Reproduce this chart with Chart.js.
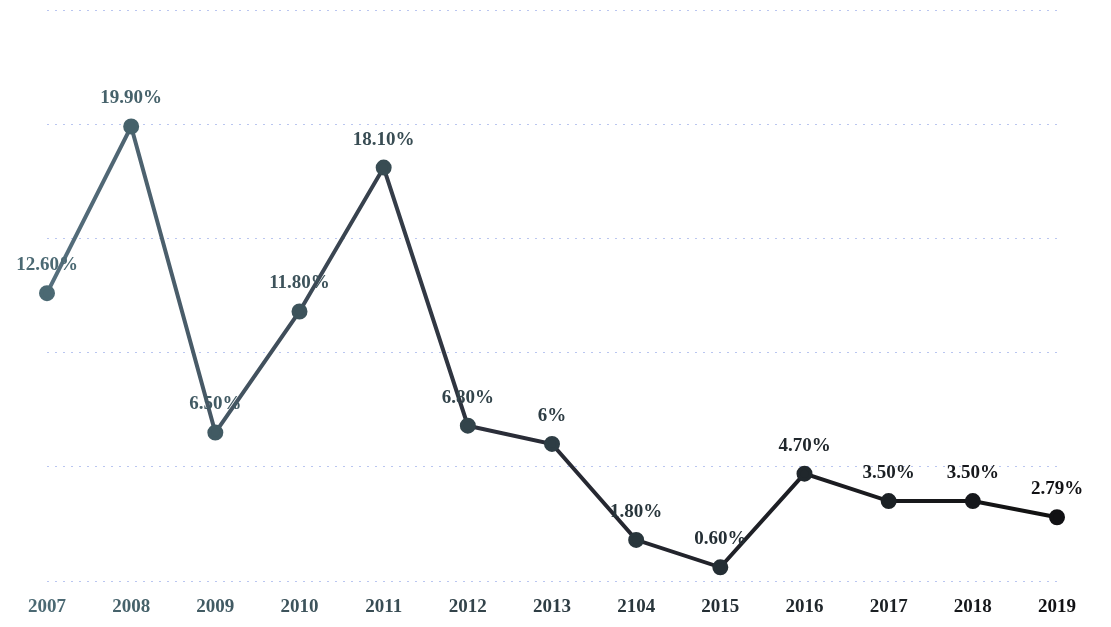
<!DOCTYPE html>
<html>
<head>
<meta charset="utf-8">
<script src="https://cdn.jsdelivr.net/npm/chart.js@4"></script>
<style>
  html, body { margin: 0; padding: 0; background: #fff; }
  #wrap { width: 1111px; height: 627px; }
</style>
</head>
<body>
<div id="wrap"><canvas id="rateChart" width="1111" height="627"></canvas></div>
<script>
const years = ["2007", "2008", "2009", "2010", "2011", "2012", "2013", "2104", "2015", "2016", "2017", "2018", "2019"];
const rates = [12.6, 19.9, 6.5, 11.8, 18.1, 6.8, 6, 1.8, 0.6, 4.7, 3.5, 3.5, 2.79];
const rateLabels = ["12.60%", "19.90%", "6.50%", "11.80%", "18.10%", "6.80%", "6%", "1.80%", "0.60%", "4.70%", "3.50%", "3.50%", "2.79%"];
const yTicks = [0, 5, 10, 15, 20, 25];

// colour fades from grey-teal on the left to black on the right
function shade(i) {
    const t = i / (years.length - 1);
    const r = Math.round(75 + (17 - 75) * t);
    const g = Math.round(105 + (17 - 105) * t);
    const b = Math.round(115 + (20 - 115) * t);
    return `rgb(${r},${g},${b})`;
}

const pointLabels = {
    id: "pointLabels",
    afterDatasetsDraw(chart) {
        const ctx = chart.ctx;
        const meta = chart.getDatasetMeta(0);
        ctx.save();
        ctx.font = "bold 19px 'Liberation Serif', 'Times New Roman', serif";
        ctx.textAlign = "center";
        ctx.textBaseline = "middle";
        meta.data.forEach((pt, i) => {
            ctx.fillStyle = shade(i);
            ctx.fillText(rateLabels[i], pt.x, pt.y - 28);
        });
        ctx.restore();
    }
};

const ctx = document.getElementById("rateChart").getContext("2d");
new Chart(ctx, {
    type: "line",
    data: {
        labels: years,
        datasets: [{
            data: rates,
            borderColor: function (c) {
                const area = c.chart.chartArea;
                if (!area) return "#222";
                const grad = c.chart.ctx.createLinearGradient(area.left, 0, area.right, 0);
                grad.addColorStop(0, "#56707e");
                grad.addColorStop(0.45, "#2a2d38");
                grad.addColorStop(1, "#111111");
                return grad;
            },
            pointBackgroundColor: years.map((y, i) => shade(i)),
            pointBorderColor: years.map((y, i) => shade(i)),
            pointRadius: 6,
            borderWidth: 4,
            tension: 0,
            fill: false
        }]
    },
    options: {
        responsive: false,
        animation: false,
        layout: { padding: { left: 47, right: 54, top: 9, bottom: 11 } },
        plugins: {
            legend: { display: false },
            tooltip: { enabled: false }
        },
        scales: {
            x: {
                offset: false,
                grid: { display: false },
                border: { display: false },
                ticks: {
                    padding: 7,
                    maxRotation: 0,
                    color: c => shade(c.index),
                    font: { family: "'Liberation Serif', 'Times New Roman', serif", size: 19, weight: "bold" }
                },
                afterFit: axis => { axis.height = 35; }
            },
            y: {
                min: 0,
                max: 25,
                afterBuildTicks: axis => { axis.ticks = yTicks.map(v => ({ value: v })); },
                ticks: { display: false },
                border: { display: false, dash: [2, 6] },
                grid: {
                    color: "rgba(140,160,230,0.6)",
                    lineWidth: 1,
                    drawTicks: false,
                    tickLength: 0
                },
                afterFit: axis => { axis.width = 0; }
            }
        }
    },
    plugins: [pointLabels]
});
</script>
</body>
</html>
